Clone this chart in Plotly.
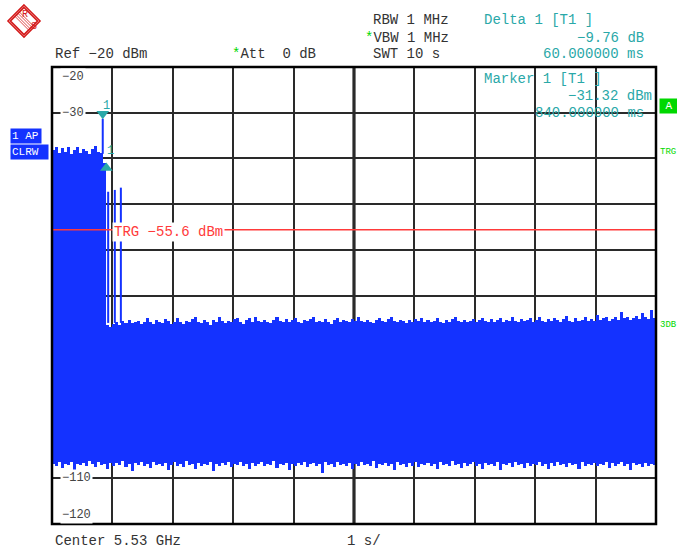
import plotly.graph_objects as go

# ---------------- data ----------------
STEP = 0.05  # s per trace bin
BLOCK_UPPER = [-38.2, -37.5, -38.9, -37.8, -38.6, -37.4, -39.0, -38.1, -37.6,
               -38.8, -37.9, -38.4, -39.1, -38.0, -37.3, -38.5, -38.9]
DELTA_COL_UPPER = [-41.1]
NOISE_UPPER = [
    -76.4, -76.8, -76.2, -75.9, -76.5, -75.6, -76.0, -75.3, -76.1, -75.8, -75.5, -76.3, -75.7, -74.9, -75.9, -76.2, -75.4, -75.8, -76.0, -75.1,
    -75.6, -76.2, -75.8, -75.0, -75.7, -76.3, -75.5, -75.9, -75.2, -74.8, -75.8, -76.1, -75.4, -75.9, -76.4, -75.3, -75.7, -74.6, -75.6, -76.0,
    -75.5, -75.9, -75.2, -74.9, -75.7, -76.2, -75.4, -75.0, -75.8, -74.7, -75.6, -75.9, -75.3, -75.7, -76.1, -75.4, -74.8, -75.6, -75.9, -75.2,
    -75.8, -75.4, -74.9, -75.7, -76.0, -75.3, -75.6, -75.1, -74.6, -75.8, -75.5, -75.9, -75.2, -75.7, -76.2, -75.4, -75.0, -75.8, -75.3, -75.6,
    -75.9, -75.2, -75.6, -74.8, -75.5, -75.9, -75.3, -75.7, -76.1, -75.4, -75.0, -75.6, -75.8, -75.2, -74.7, -75.5, -75.9, -75.3, -75.6, -76.0,
    -75.4, -75.8, -75.1, -75.6, -74.9, -75.7, -75.3, -75.9, -75.5, -75.0, -75.7, -76.0, -75.4, -75.8, -75.2, -74.6, -75.6, -75.9, -75.3, -75.7,
    -75.5, -75.1, -75.8, -75.4, -74.9, -75.6, -75.9, -75.2, -75.7, -75.4, -75.0, -75.8, -75.3, -75.6, -74.8, -75.5, -75.9, -75.2, -75.6, -75.4,
    -75.0, -75.7, -75.3, -74.7, -75.5, -75.8, -75.1, -75.6, -74.9, -75.4, -75.7, -75.2, -74.4, -75.5, -75.8, -75.0, -75.6, -75.3, -74.8, -75.5,
    -75.2, -75.6, -74.3, -75.4, -75.0, -74.8, -75.5, -75.1, -74.6, -75.3, -73.6, -75.0, -74.7, -75.4, -74.9, -74.5, -75.2, -73.9, -74.8, -75.1,
    -73.2, -74.9,
]
LOWER = [
    -106.9, -107.2, -106.5, -107.8, -106.8, -107.1, -106.4, -108.2, -106.9, -107.0, -106.6, -107.4, -106.2, -106.9, -107.6, -106.5, -107.1, -106.8, -108.0, -106.7,
    -107.3, -106.6, -107.0, -106.3, -107.5, -106.9, -108.3, -106.7, -107.1, -106.5, -107.2, -106.8, -107.7, -106.4, -107.0, -106.9, -107.4, -106.6, -108.1, -107.0,
    -106.5, -107.2, -106.8, -107.6, -106.3, -107.0, -106.9, -107.9, -106.6, -107.3, -106.8, -107.1, -106.4, -108.4, -106.9, -107.2, -106.7, -107.0, -106.5, -107.5,
    -106.8, -107.1, -106.4, -107.3, -106.9, -108.0, -106.6, -107.2, -106.8, -106.5, -107.4, -106.9, -107.0, -106.3, -107.7, -106.8, -107.1, -106.6, -108.2, -106.9,
    -107.2, -106.7, -107.0, -106.4, -107.5, -106.9, -106.6, -107.3, -106.8, -108.9, -106.5, -107.1, -106.9, -107.6, -106.4, -107.0, -106.8, -107.3, -106.6, -107.9,
    -106.9, -107.2, -106.5, -107.0, -106.8, -107.4, -106.3, -107.8, -106.9, -107.1, -106.6, -107.3, -106.8, -108.1, -106.5, -107.0, -106.9, -107.5, -106.7, -107.2,
    -106.4, -107.6, -106.9, -107.0, -106.6, -107.3, -106.8, -108.0, -106.5, -107.1, -106.9, -107.4, -106.2, -107.0, -106.8, -107.7, -106.6, -107.2, -106.9, -106.5,
    -107.3, -106.8, -107.9, -106.6, -107.1, -106.9, -107.4, -106.5, -108.2, -106.8, -107.0, -106.7, -107.5, -106.4, -107.1, -106.9, -107.8, -106.6, -107.2, -106.8,
    -107.0, -106.5, -107.4, -106.9, -108.0, -106.7, -107.2, -106.4, -107.1, -106.8, -107.6, -106.6, -107.0, -106.9, -107.9, -106.5, -107.3, -106.8, -107.1, -106.6,
    -107.4, -106.9, -107.1, -106.5, -107.8, -106.7, -107.2, -106.9, -106.4, -107.3, -106.8, -108.1, -106.6, -107.0, -106.9, -107.5, -106.7, -107.2, -106.8, -107.0,
]
SPIKE_T = [0.84, 0.93, 1.04, 1.14]
SPIKE_TOP = [-31.32, -47.3, -46.9, -46.4]
SPIKE_BASE = [-39.0, -76.0, -76.0, -76.0]

MARKER_T = 0.84
MARKER_DBM = -31.32
DELTA_T = 0.90
DELTA_DB = -9.76
TRIGGER_DBM = -55.6

REF_LEVEL = -20
Y_BOTTOM = -120
SWEEP_S = 10
Y_TICK_LABELS = ["\u221220", "\u221230", "\u2212110", "\u2212120"]
Y_TICK_VALUES = [-20, -30, -110, -120]

# ---------------- geometry helpers (page pixels; page margin removed) ----------------
PAGE_W, PAGE_H = 677, 548
PL, PR, PT, PB = 52, 656, 67, 524          # plot area in page pixels
W, H = PAGE_W, PAGE_H
L, T = PL, PT
R, B = PAGE_W - PR, PAGE_H - PB
PW, PH = PR - PL, PB - PT


def P(x, y):
    return (x - PL) / PW, (PB - y) / PH


FONT = "Liberation Mono, Courier New, monospace"
DARK = "#333333"
TEAL = "#2aa8a8"
GREEN = "#00d800"
BLUE = "#1432ff"
RED = "#ff3a3a"

upper = BLOCK_UPPER + DELTA_COL_UPPER + NOISE_UPPER
centers = [STEP * (i + 0.5) for i in range(len(upper))]

fig = go.Figure()
fig.add_trace(go.Bar(
    x=centers, y=[u - l for u, l in zip(upper, LOWER)], base=LOWER,
    width=STEP, marker=dict(color=BLUE, line=dict(width=0)), hoverinfo="skip",
))

sx, sy = [], []
for t, top, base in zip(SPIKE_T, SPIKE_TOP, SPIKE_BASE):
    sx += [t, t, None]
    sy += [base, top, None]
fig.add_trace(go.Scatter(x=sx, y=sy, mode="lines", line=dict(color=BLUE, width=2),
                         hoverinfo="skip"))

# markers
fig.add_trace(go.Scatter(x=[MARKER_T], y=[MARKER_DBM + 1.1], mode="markers",
                         marker=dict(symbol="triangle-down", size=11, color=TEAL),
                         hoverinfo="skip"))
fig.add_trace(go.Scatter(x=[DELTA_T], y=[MARKER_DBM + DELTA_DB - 1.0], mode="markers",
                         marker=dict(symbol="triangle-up", size=11, color=TEAL),
                         hoverinfo="skip"))

shapes = []
shapes.append(dict(type="line", xref="x", yref="paper", x0=SWEEP_S / 2, x1=SWEEP_S / 2,
                   y0=0, y1=1, line=dict(color="black", width=3), layer="below"))
shapes.append(dict(type="line", xref="paper", yref="y", x0=0, x1=1, y0=TRIGGER_DBM,
                   y1=TRIGGER_DBM, line=dict(color=RED, width=1.5), layer="above"))
shapes.append(dict(type="rect", xref="paper", yref="paper", x0=0, x1=1, y0=0, y1=1,
                   line=dict(color="black", width=2.5), layer="above"))

# R&S logo
cx, cy, r1, r2 = 24, 21, 16, 13.5
LOGO = "#d41c1c"
for rr in (r1, r2):
    pts = [P(cx, cy - rr), P(cx + rr, cy), P(cx, cy + rr), P(cx - rr, cy)]
    path = "M " + " L ".join(f"{a:.5f},{b:.5f}" for a, b in pts) + " Z"
    shapes.append(dict(type="path", xref="paper", yref="paper", path=path,
                       line=dict(color=LOGO, width=1.6)))
for k in (-2.2, -0.8, 0.8, 2.2):
    x0, y0 = P(cx - 7 + k, cy - 7 - k)
    x1, y1 = P(cx + 7 + k, cy + 7 - k)
    shapes.append(dict(type="line", xref="paper", yref="paper", x0=x0, y0=y0, x1=x1, y1=y1,
                       line=dict(color=LOGO, width=0.8)))

ann = []


def text(x, y, s, color=DARK, size=14, anchor="left", **kw):
    px, py = P(x, y)
    ann.append(dict(xref="paper", yref="paper", x=px, y=py, text=s, showarrow=False,
                    xanchor=anchor, yanchor="middle",
                    font=dict(family=FONT, size=size, color=color), **kw))


NB = "\u00a0"
text(19.5, 15, "R", LOGO, 10)
text(28.5, 27, "S", LOGO, 10)

text(53, 54, f"Ref{NB}\u2212{abs(REF_LEVEL)}{NB}dBm")
text(230, 54, f"<span style='color:{GREEN}'>*</span>Att{NB}{NB}0{NB}dB")
text(371, 20, f"RBW{NB}1{NB}MHz")
text(363, 38, f"<span style='color:{GREEN}'>*</span>VBW{NB}1{NB}MHz")
text(371, 54, f"SWT{NB}{SWEEP_S}{NB}s")
text(482, 20, f"Delta{NB}1{NB}[T1{NB}]", TEAL)
text(646, 38, f"\u2212{abs(DELTA_DB):.2f}{NB}dB", TEAL, anchor="right")
text(646, 54, f"{(DELTA_T - MARKER_T) * 1000:.6f}{NB}ms", TEAL, anchor="right")
text(482, 79, f"Marker{NB}1{NB}[T1{NB}]", TEAL)
text(654, 96, f"\u2212{abs(MARKER_DBM):.2f}{NB}dBm", TEAL, anchor="right")
text(646, 113, f"{MARKER_T * 1000:.6f}{NB}ms", TEAL, anchor="right")
text(53, 541, f"Center{NB}5.53{NB}GHz")
text(345, 541, f"1{NB}s/")
text(112, 232, f"TRG{NB}\u2212{abs(TRIGGER_DBM)}{NB}dBm", RED, bgcolor="white")
text(101, 106, "1", TEAL, 12)
text(105, 151, "1", TEAL, 12)

# y tick labels (the others are hidden behind the trace)
for v, lab in zip(Y_TICK_VALUES, Y_TICK_LABELS):
    ypix = PT + (REF_LEVEL - v) / (REF_LEVEL - Y_BOTTOM) * PH
    if v == REF_LEVEL:
        ypix += 10
    elif v == Y_BOTTOM:
        ypix -= 9
    text(60, ypix, lab, "#444444", 12, bgcolor="white")

# side labels
text(10, 136, f"1{NB}AP", "white", 11, bgcolor=BLUE, width=28, align="left")
text(10, 152, "CLRW", "white", 11, bgcolor=BLUE, width=35, align="left")
text(659, 106, "A", "white", 11, bgcolor=GREEN, width=16, align="center")
text(658, 152, "TRG", GREEN, 9)
text(658, 325, "3DB", GREEN, 9)

fig.update_layout(
    width=W, height=H, margin=dict(l=L, r=R, t=T, b=B),
    paper_bgcolor="white", plot_bgcolor="white",
    showlegend=False, bargap=0, shapes=shapes, annotations=ann,
    xaxis=dict(range=[0, SWEEP_S], dtick=1, tick0=0, showgrid=True, gridcolor="#2a2a2a",
               gridwidth=1.5, showticklabels=False, zeroline=False, ticks=""),
    yaxis=dict(range=[Y_BOTTOM, REF_LEVEL], dtick=10, tick0=REF_LEVEL, showgrid=True,
               gridcolor="#2a2a2a", gridwidth=1.5, showticklabels=False, zeroline=False,
               ticks=""),
)

fig.write_html("out.html", config={"displayModeBar": False},
               post_script="document.body.style.margin='0';document.body.style.overflow='hidden';")
